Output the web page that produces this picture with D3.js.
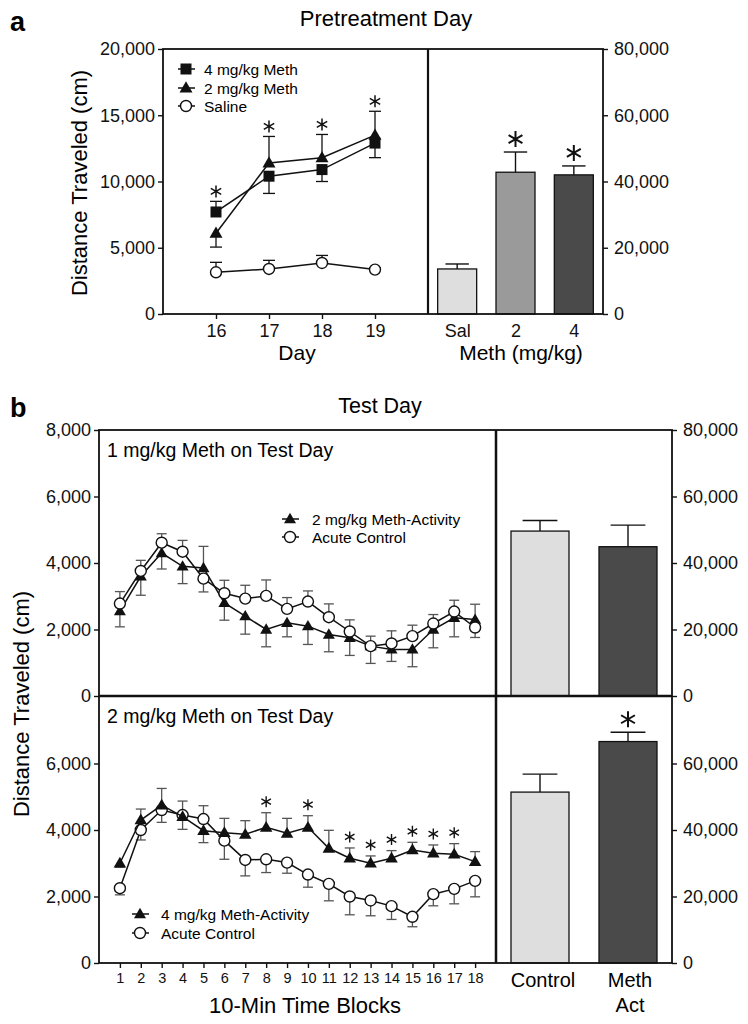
<!DOCTYPE html>
<html><head><meta charset="utf-8">
<script src="https://cdn.jsdelivr.net/npm/d3@7"></script>
<style>
body{margin:0;background:#fff;}
svg{display:block;font-family:"Liberation Sans",Arial,Helvetica,sans-serif;}
</style></head>
<body><svg id="c" width="748" height="1024"></svg>
<script>
// ---------- Panel a : pretreatment days ----------
const preDays = [16, 17, 18, 19];
const meth4Pre = [7700, 10400, 10900, 12900];
const meth4PreErr = [800, 1300, 900, 1100];
const meth4PreDir = [1, -1, -1, -1];
const meth2Pre = [6100, 11400, 11800, 13500];
const meth2PreErr = [1050, 2000, 1750, 1800];
const meth2PreDir = [-1, 1, 1, 1];
const salinePre = [3150, 3400, 3850, 3350];
const salinePreErr = [750, 650, 570, 150];
const salinePreDir = [1, 1, 1, 1];
const preStarDays = [16, 17, 18, 19];
const preLegend = ["4 mg/kg Meth", "2 mg/kg Meth", "Saline"];
const preTicksL = [0, 5000, 10000, 15000, 20000];
const preTicksR = [0, 20000, 40000, 60000, 80000];

const preBarCats = ["Sal", "2", "4"];
const preBarVals = [13600, 42800, 42000];
const preBarErr = [1500, 6100, 2700];
const preBarStars = ["2", "4"];

// ---------- Panel b : test day ----------
const blocks = d3.range(1, 19);
// top: 1 mg/kg on test day
const meth2Test = [2550, 3600, 4300, 3900, 3850, 2800, 2400, 2000, 2200, 2100, 1850, 1750, 1500, 1400, 1400, 2000, 2350, 2300];
const meth2TestErr = [470, 570, 480, 520, 650, 520, 540, 520, 420, 550, 520, 530, 520, 360, 520, 550, 570, 460];
const meth2TestDir = [-1, -1, -1, -1, 1, -1, -1, -1, -1, -1, -1, -1, -1, -1, -1, -1, -1, 1];
const acuteTop = [2780, 3760, 4610, 4340, 3530, 3090, 2930, 3010, 2620, 2840, 2370, 1940, 1500, 1580, 1800, 2180, 2540, 2060];
const acuteTopErr = [360, 320, 270, 340, 400, 390, 400, 480, 340, 320, 400, 350, 300, 380, 330, 270, 340, 300];
const acuteTopDir = [1, 1, 1, 1, -1, 1, 1, 1, 1, 1, 1, 1, 1, 1, 1, 1, 1, -1];
// bottom: 2 mg/kg on test day
const meth4Test = [3000, 4300, 4750, 4400, 3980, 3920, 3870, 4080, 3900, 4080, 3450, 3150, 3000, 3150, 3400, 3300, 3270, 3050];
const meth4TestErr = [120, 330, 500, 380, 360, 430, 410, 440, 450, 350, 540, 310, 220, 230, 230, 250, 320, 300];
const meth4TestDir = [-1, 1, 1, -1, -1, 1, 1, 1, 1, 1, 1, 1, 1, 1, 1, 1, 1, 1];
const acuteBot = [2250, 4000, 4600, 4450, 4330, 3680, 3100, 3120, 3020, 2660, 2380, 2000, 1880, 1710, 1390, 2070, 2230, 2470];
const acuteBotErr = [200, 300, 370, 420, 400, 560, 480, 400, 320, 380, 510, 550, 460, 400, 300, 350, 450, 480];
const acuteBotDir = [-1, -1, -1, 1, 1, -1, -1, -1, -1, -1, -1, -1, -1, -1, -1, -1, -1, -1];
const botStarBlocks = [8, 10, 12, 13, 14, 15, 16, 17];
const topLegend = ["2 mg/kg Meth-Activity", "Acute Control"];
const botLegend = ["4 mg/kg Meth-Activity", "Acute Control"];
const testTicksTop = [0, 2000, 4000, 6000, 8000];
const testTicksBot = [0, 2000, 4000, 6000];
const testTicksRTop = [0, 20000, 40000, 60000, 80000];
const testTicksRBot = [0, 20000, 40000, 60000];

const testBarCats = ["Control", "Meth Act"];
const testBarTopVals = [49600, 44900];
const testBarTopErr = [3200, 6500];
const testBarBotVals = [51400, 66600];
const testBarBotErr = [5400, 2800];
const testBarBotStars = ["Meth Act"];

// ---------- drawing ----------
const svg = d3.select("#c");
const fmt = d3.format(",");
const barColors = {"Sal": "#dedede", "2": "#9a9a9a", "4": "#4a4a4a", "Control": "#dedede", "Meth Act": "#4a4a4a"};
const FS = 18;

function star(g, x, y, r, sw) {
  const p = d3.path();
  for (let k = 0; k < 3; k++) {
    const a = Math.PI / 2 + k * Math.PI / 3;
    p.moveTo(x + r * Math.cos(a), y + r * Math.sin(a));
    p.lineTo(x - r * Math.cos(a), y - r * Math.sin(a));
  }
  g.append("path").attr("d", p.toString()).attr("stroke", "#111").attr("stroke-width", sw).attr("fill", "none");
}

function marker(g, type, x, y, s) {
  if (type === "square") {
    g.append("rect").attr("x", x - s / 2).attr("y", y - s / 2).attr("width", s).attr("height", s).attr("fill", "#111");
  } else if (type === "tri") {
    const h = s * 0.9;
    g.append("path").attr("d", `M${x},${y - h * 0.62}L${x + s / 2 + 0.5},${y + h * 0.42}L${x - s / 2 - 0.5},${y + h * 0.42}Z`).attr("fill", "#111");
  } else {
    g.append("circle").attr("cx", x).attr("cy", y).attr("r", s / 2).attr("fill", "#fff").attr("stroke", "#111").attr("stroke-width", 1.4);
  }
}

function series(g, xs, vals, errs, dirs, x, y, type, s, errColor, capW) {
  const eg = g.append("g");
  xs.forEach((d, i) => {
    const x0 = x(d), y0 = y(vals[i]), y1 = y(vals[i] + dirs[i] * errs[i]);
    eg.append("line").attr("x1", x0).attr("x2", x0).attr("y1", y0).attr("y2", y1).attr("stroke", errColor).attr("stroke-width", 1.3);
    eg.append("line").attr("x1", x0 - capW / 2).attr("x2", x0 + capW / 2).attr("y1", y1).attr("y2", y1).attr("stroke", errColor).attr("stroke-width", 1.3);
  });
  const line = d3.line().x((d, i) => x(xs[i])).y(d => y(d));
  g.append("path").attr("d", line(vals)).attr("fill", "none").attr("stroke", "#111").attr("stroke-width", 1.5);
  const mg = g.append("g");
  xs.forEach((d, i) => marker(mg, type, x(d), y(vals[i]), s));
}

function styleAxis(g, fs) {
  g.selectAll("path.domain").remove();
  g.selectAll("line").attr("stroke", "#111").attr("stroke-width", 1.4);
  g.selectAll("text").attr("font-size", fs).attr("fill", "#111").attr("font-family", "Liberation Sans, Arial, sans-serif");
}

function bars(g, cats, vals, errs, x, y, w, starCats, starR) {
  cats.forEach((c, i) => {
    const cx = x(c), yt = y(vals[i]), ye = y(vals[i] + errs[i]);
    g.append("line").attr("x1", cx).attr("x2", cx).attr("y1", yt).attr("y2", ye).attr("stroke", "#111").attr("stroke-width", 1.4);
    g.append("line").attr("x1", cx - w * 0.3).attr("x2", cx + w * 0.3).attr("y1", ye).attr("y2", ye).attr("stroke", "#111").attr("stroke-width", 1.4);
    g.append("rect").attr("x", cx - w / 2).attr("y", yt).attr("width", w).attr("height", y(0) - yt)
      .attr("fill", barColors[c]).attr("stroke", "#111").attr("stroke-width", 1.3);
    if (starCats.includes(c)) star(g, cx, ye - starR - 5, starR, 2);
  });
}

// ===== Panel a =====
const aL = 163, aDiv = 428, aR = 603, aT = 49, aB = 314;
const xA = d3.scaleLinear().domain([15, 20]).range([aL, aDiv]);
const yA = d3.scaleLinear().domain([0, 20000]).range([aB, aT]);
const xAB = d3.scalePoint().domain(preBarCats).range([aDiv, aR]).padding(0.5);
const yAB = d3.scaleLinear().domain([0, 80000]).range([aB, aT]);

svg.append("text").attr("x", 10).attr("y", 31).attr("font-size", 27).attr("font-weight", "bold").text("a");
svg.append("text").attr("x", 386).attr("y", 26).attr("font-size", 22).attr("text-anchor", "middle").text("Pretreatment Day");

const gA = svg.append("g");
styleAxis(gA.append("g").attr("transform", `translate(${aL},0)`)
  .call(d3.axisLeft(yA).tickValues(preTicksL).tickFormat(fmt).tickSize(5).tickPadding(3)), FS);
styleAxis(gA.append("g").attr("transform", `translate(0,${aB})`)
  .call(d3.axisBottom(xA).tickValues(preDays).tickFormat(d3.format("d")).tickSize(5).tickPadding(5)), FS);
styleAxis(gA.append("g").attr("transform", `translate(${aR},0)`)
  .call(d3.axisRight(yAB).tickValues(preTicksR).tickFormat(fmt).tickSize(5).tickPadding(6)), FS);
styleAxis(gA.append("g").attr("transform", `translate(0,${aB})`)
  .call(d3.axisBottom(xAB).tickSize(0).tickPadding(10)), FS);

bars(gA, preBarCats, preBarVals, preBarErr, xAB, yAB, 39, preBarStars, 8);

series(gA, preDays, salinePre, salinePreErr, salinePreDir, xA, yA, "circle", 11, "#111", 12);
series(gA, preDays, meth4Pre, meth4PreErr, meth4PreDir, xA, yA, "square", 11, "#111", 12);
series(gA, preDays, meth2Pre, meth2PreErr, meth2PreDir, xA, yA, "tri", 12, "#111", 12);
preStarDays.forEach((d, i) => {
  const top = Math.max(meth4Pre[i] + (meth4PreDir[i] > 0 ? meth4PreErr[i] : 0), meth2Pre[i] + (meth2PreDir[i] > 0 ? meth2PreErr[i] : 0));
  star(gA, xA(d), yA(top) - 10, 6, 1.5);
});

// legend a
[["square", 69], ["tri", 88], ["circle", 106]].forEach(([t, yy], i) => {
  gA.append("line").attr("x1", 178).attr("x2", 195).attr("y1", yy).attr("y2", yy).attr("stroke", "#111").attr("stroke-width", 1.5);
  marker(gA, t, 186, yy, t === "tri" ? 12 : 11);
  gA.append("text").attr("x", 204).attr("y", yy + 5.5).attr("font-size", 15.5).text(preLegend[i]);
});

// frame a
gA.append("rect").attr("x", aL).attr("y", aT).attr("width", aR - aL).attr("height", aB - aT).attr("fill", "none").attr("stroke", "#111").attr("stroke-width", 1.8);
gA.append("line").attr("x1", aDiv).attr("x2", aDiv).attr("y1", aT).attr("y2", aB).attr("stroke", "#111").attr("stroke-width", 2.2);

svg.append("text").attr("x", 297).attr("y", 360).attr("font-size", 21).attr("text-anchor", "middle").text("Day");
svg.append("text").attr("x", 521).attr("y", 360).attr("font-size", 21).attr("text-anchor", "middle").text("Meth (mg/kg)");
svg.append("text").attr("transform", "translate(87,183) rotate(-90)").attr("font-size", 22).attr("text-anchor", "middle").text("Distance Traveled (cm)");

// ===== Panel b =====
const bL = 99, bDiv = 496, bR = 672, bT = 430, bM = 696, bB = 963;
const xB = d3.scaleLinear().domain([0, 19]).range([bL, bDiv]);
const yT = d3.scaleLinear().domain([0, 8000]).range([bM, bT]);
const yBt = d3.scaleLinear().domain([0, 8000]).range([bB, bM + 1]);
const xBB = d3.scalePoint().domain(testBarCats).range([bDiv, bR]).padding(0.5);
const yBT = d3.scaleLinear().domain([0, 80000]).range([bM, bT]);
const yBBt = d3.scaleLinear().domain([0, 80000]).range([bB, bM + 1]);

svg.append("text").attr("x", 10).attr("y", 417).attr("font-size", 27).attr("font-weight", "bold").text("b");
svg.append("text").attr("x", 380).attr("y", 413).attr("font-size", 21.5).attr("text-anchor", "middle").text("Test Day");

const gB = svg.append("g");
styleAxis(gB.append("g").attr("transform", `translate(${bL},0)`)
  .call(d3.axisLeft(yT).tickValues(testTicksTop).tickFormat(fmt).tickSize(5).tickPadding(3)), FS);
styleAxis(gB.append("g").attr("transform", `translate(${bL},0)`)
  .call(d3.axisLeft(yBt).tickValues(testTicksBot).tickFormat(fmt).tickSize(5).tickPadding(3)), FS);
styleAxis(gB.append("g").attr("transform", `translate(${bR},0)`)
  .call(d3.axisRight(yBT).tickValues(testTicksRTop).tickFormat(fmt).tickSize(5).tickPadding(6)), FS);
styleAxis(gB.append("g").attr("transform", `translate(${bR},0)`)
  .call(d3.axisRight(yBBt).tickValues(testTicksRBot).tickFormat(fmt).tickSize(5).tickPadding(6)), FS);
styleAxis(gB.append("g").attr("transform", `translate(0,${bB})`)
  .call(d3.axisBottom(xB).tickValues(blocks).tickSize(5).tickPadding(5)), 14.5);

bars(gB, testBarCats, testBarTopVals, testBarTopErr, xBB, yBT, 58, [], 8);
bars(gB, testBarCats, testBarBotVals, testBarBotErr, xBB, yBBt, 58, testBarBotStars, 8);

series(gB, blocks, meth2Test, meth2TestErr, meth2TestDir, xB, yT, "tri", 11, "#555", 10);
series(gB, blocks, acuteTop, acuteTopErr, acuteTopDir, xB, yT, "circle", 11, "#555", 10);
series(gB, blocks, acuteBot, acuteBotErr, acuteBotDir, xB, yBt, "circle", 11, "#555", 10);
series(gB, blocks, meth4Test, meth4TestErr, meth4TestDir, xB, yBt, "tri", 11.5, "#555", 10);
botStarBlocks.forEach(b => {
  const i = b - 1;
  star(gB, xB(b), yBt(meth4Test[i] + meth4TestErr[i]) - 11, 5.5, 1.4);
});

// legends b
[["tri", 519], ["circle", 537]].forEach(([t, yy], i) => {
  gB.append("line").attr("x1", 282).attr("x2", 299).attr("y1", yy).attr("y2", yy).attr("stroke", "#111").attr("stroke-width", 1.5);
  marker(gB, t, 290, yy, 11);
  gB.append("text").attr("x", 312).attr("y", yy + 5.5).attr("font-size", 15.5).text(topLegend[i]);
});
[["tri", 914], ["circle", 933]].forEach(([t, yy], i) => {
  gB.append("line").attr("x1", 132).attr("x2", 149).attr("y1", yy).attr("y2", yy).attr("stroke", "#111").attr("stroke-width", 1.5);
  marker(gB, t, 140, yy, 11);
  gB.append("text").attr("x", 161).attr("y", yy + 5.5).attr("font-size", 15.5).text(botLegend[i]);
});

gB.append("text").attr("x", 107).attr("y", 457).attr("font-size", 19.5).text("1 mg/kg Meth on Test Day");
gB.append("text").attr("x", 107).attr("y", 723).attr("font-size", 19.5).text("2 mg/kg Meth on Test Day");

// frames b
gB.append("rect").attr("x", bL).attr("y", bT).attr("width", bR - bL).attr("height", bB - bT).attr("fill", "none").attr("stroke", "#111").attr("stroke-width", 1.8);
gB.append("line").attr("x1", bDiv).attr("x2", bDiv).attr("y1", bT).attr("y2", bB).attr("stroke", "#111").attr("stroke-width", 2.5);
gB.append("line").attr("x1", bL).attr("x2", bR).attr("y1", bM).attr("y2", bM).attr("stroke", "#111").attr("stroke-width", 2.5);

// bar category labels b
svg.append("text").attr("x", xBB("Control") + 3).attr("y", 987).attr("font-size", 20).attr("text-anchor", "middle").text("Control");
svg.append("text").attr("x", xBB("Meth Act") + 2).attr("y", 987).attr("font-size", 20).attr("text-anchor", "middle").text("Meth");
svg.append("text").attr("x", xBB("Meth Act") + 2).attr("y", 1012).attr("font-size", 20).attr("text-anchor", "middle").text("Act");

svg.append("text").attr("x", 305).attr("y", 1013).attr("font-size", 22).attr("text-anchor", "middle").text("10-Min Time Blocks");
svg.append("text").attr("transform", "translate(29,704) rotate(-90)").attr("font-size", 22).attr("text-anchor", "middle").text("Distance Traveled (cm)");
</script></body></html>
